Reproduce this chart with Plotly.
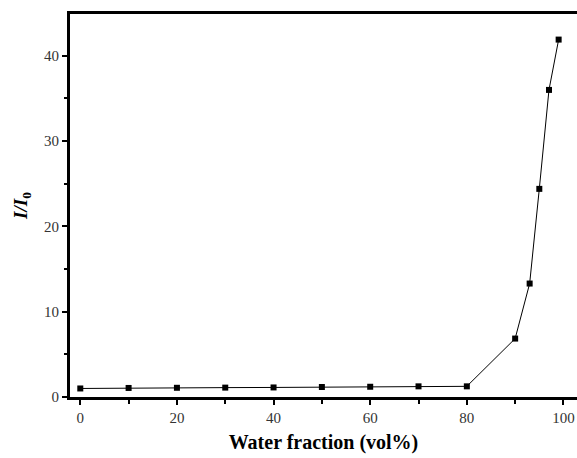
import plotly.graph_objects as go

water_fraction = [0, 10, 20, 30, 40, 50, 60, 70, 80, 90, 93, 95, 97, 99]
intensity_ratio = [1.0, 1.06, 1.08, 1.1, 1.12, 1.17, 1.2, 1.25, 1.25, 6.85, 13.3, 24.4, 36.0, 41.9]

fig = go.Figure()
fig.add_trace(go.Scatter(
    x=water_fraction, y=intensity_ratio, mode="lines+markers",
    line=dict(color="black", width=1),
    marker=dict(symbol="square", size=6, color="black"),
    showlegend=False,
))

tickfont = dict(family="Liberation Serif", size=15, color="#333333")
fig.update_layout(
    width=577, height=458,
    margin=dict(l=70, r=0, t=14, b=61),
    plot_bgcolor="white", paper_bgcolor="white",
    xaxis=dict(
        range=[-2.13, 102.8], showgrid=False, zeroline=False,
        showline=True, linecolor="black", linewidth=3, mirror=True,
        ticks="outside", ticklen=5, tickwidth=2, tickcolor="black",
        tick0=0, dtick=20, tickfont=tickfont,
        minor=dict(ticks="outside", ticklen=4, tickwidth=2, tickcolor="black", dtick=10, tick0=0),
        title=dict(text="<b>Water fraction (vol%)</b>",
                   font=dict(family="Liberation Serif", size=20, color="black"), standoff=10),
    ),
    yaxis=dict(
        range=[0, 44.9], showgrid=False, zeroline=False,
        showline=True, linecolor="black", linewidth=3, mirror=False,
        ticks="outside", ticklen=5, tickwidth=2, tickcolor="black",
        tick0=0, dtick=10, tickfont=tickfont,
        minor=dict(ticks="outside", ticklen=3, tickwidth=2, tickcolor="black", dtick=5, tick0=0),
        title=dict(text="<b><i>I/I</i><sub>0</sub></b>",
                   font=dict(family="Liberation Serif", size=19, color="black"), standoff=12),
    ),
)
fig.write_html("out.html", config={"displayModeBar": False},
               post_script="document.body.style.margin='0';document.body.style.overflow='hidden';")
